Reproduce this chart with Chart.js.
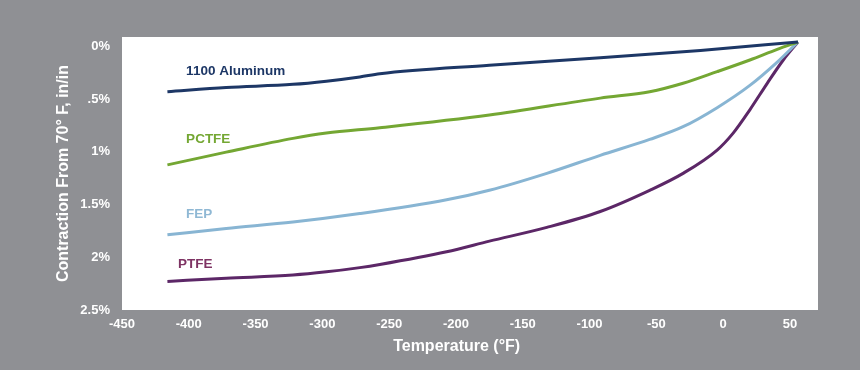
<!DOCTYPE html>
<html>
<head>
<meta charset="utf-8">
<script src="https://cdn.jsdelivr.net/npm/chart.js@4.4.1/dist/chart.umd.min.js"></script>
<style>
  html, body { margin: 0; padding: 0; background: #8f9094; }
  canvas { display: block; }
</style>
</head>
<body>
<canvas id="myChart" width="860" height="370"></canvas>
<script>
// values (temperature °F, contraction %)
const aluminumTemp = [-416, -372, -322, -297, -272, -257, -175, -92, -17, 56];
const aluminumPct  = [0.47, 0.43, 0.40, 0.37, 0.33, 0.30, 0.22, 0.15, 0.08, 0];

const pctfeTemp = [-416, -372, -322, -297, -257, -175, -92, -55, -30, -4.5, 20, 40.5, 56];
const pctfePct  = [1.16, 1.04, 0.91, 0.86, 0.81, 0.69, 0.53, 0.47, 0.39, 0.28, 0.17, 0.07, 0];

const fepTemp = [-416, -372, -322, -272, -207, -175, -132, -92, -55, -30, -4.5, 20, 40.5, 56];
const fepPct  = [1.82, 1.76, 1.70, 1.62, 1.49, 1.40, 1.24, 1.07, 0.92, 0.80, 0.62, 0.41, 0.19, 0];

const ptfeTemp = [-416, -372, -322, -297, -272, -257, -207, -175, -132, -92, -55, -30, -4.5, 7.5, 20, 33, 45, 56];
const ptfePct  = [2.26, 2.23, 2.20, 2.17, 2.13, 2.10, 1.98, 1.88, 1.75, 1.60, 1.40, 1.24, 1.02, 0.86, 0.64, 0.39, 0.17, 0];

const seriesNames = ['1100 Aluminum', 'PCTFE', 'FEP', 'PTFE'];
const seriesColors = ['#1d3766', '#74a733', '#88b5d3', '#5c2767'];
const labelColors = ['#1d3766', '#74a733', '#8fb8d4', '#7e3363'];

const xTicks = [-450, -400, -350, -300, -250, -200, -150, -100, -50, 0, 50];
const yTicks = [0, 0.5, 1, 1.5, 2, 2.5];
const yTickLabels = ['0%', '.5%', '1%', '1.5%', '2%', '2.5%'];

const FONT = '"Liberation Sans", Arial, sans-serif';

function toPoints(xs, ys) {
    return xs.map((x, i) => ({ x: x, y: ys[i] }));
}

const temps = [aluminumTemp, pctfeTemp, fepTemp, ptfeTemp];
const pcts = [aluminumPct, pctfePct, fepPct, ptfePct];

const data = {
    datasets: seriesNames.map((name, i) => ({
        label: name,
        data: toPoints(temps[i], pcts[i]),
        borderColor: seriesColors[i],
        borderWidth: 3,
        pointRadius: 0,
        fill: false,
        cubicInterpolationMode: 'monotone'
    }))
};

// where each series name is written, in axis units
const labelAnchors = [
    { x: -402, y: 0.28 },
    { x: -402, y: 0.92 },
    { x: -402, y: 1.63 },
    { x: -408, y: 2.10 }
];

const backgroundPlugin = {
    id: 'background',
    beforeDraw(chart) {
        const { ctx, chartArea } = chart;
        ctx.save();
        ctx.fillStyle = '#8f9094';
        ctx.fillRect(0, 0, chart.width, chart.height);
        ctx.fillStyle = '#ffffff';
        ctx.fillRect(chartArea.left, chartArea.top, chartArea.right - chartArea.left, chartArea.bottom - chartArea.top);
        ctx.restore();
    }
};

const seriesLabels = {
    id: 'seriesLabels',
    afterDatasetsDraw(chart) {
        const { ctx, scales } = chart;
        ctx.save();
        ctx.font = 'bold 13.5px ' + FONT;
        ctx.textAlign = 'left';
        ctx.textBaseline = 'middle';
        seriesNames.forEach((name, i) => {
            ctx.fillStyle = labelColors[i];
            ctx.fillText(name, scales.x.getPixelForValue(labelAnchors[i].x), scales.y.getPixelForValue(labelAnchors[i].y));
        });
        ctx.restore();
    }
};

const config = {
    type: 'line',
    data: data,
    options: {
        responsive: false,
        animation: false,
        layout: {
            padding: { left: 50, right: 42, top: 37, bottom: 10 }
        },
        plugins: {
            legend: { display: false },
            tooltip: { enabled: false }
        },
        scales: {
            x: {
                type: 'linear',
                min: -450,
                max: 71,
                afterBuildTicks: (scale) => { scale.ticks = xTicks.map(v => ({ value: v })); },
                afterFit: (scale) => { scale.height = 50; },
                grid: { display: false, drawTicks: false },
                border: { display: false },
                ticks: {
                    color: '#ffffff',
                    padding: 7,
                    maxRotation: 0,
                    font: { family: FONT, size: 13, weight: 'bold' }
                },
                title: {
                    display: true,
                    text: 'Temperature (°F)      ',
                    color: '#ffffff',
                    font: { family: FONT, size: 16, weight: 'bold' }
                }
            },
            y: {
                type: 'linear',
                reverse: true,
                min: -0.047,
                max: 2.53,
                afterBuildTicks: (scale) => { scale.ticks = yTicks.map(v => ({ value: v })); },
                afterFit: (scale) => { scale.width = 72; },
                grid: { display: false, drawTicks: false },
                border: { display: false },
                ticks: {
                    color: '#ffffff',
                    padding: 12,
                    labelOffset: 4,
                    font: { family: FONT, size: 13, weight: 'bold' },
                    callback: (value) => yTickLabels[yTicks.indexOf(value)]
                },
                title: {
                    display: true,
                    text: 'Contraction From 70° F, in/in',
                    color: '#ffffff',
                    font: { family: FONT, size: 16, weight: 'bold' }
                }
            }
        }
    },
    plugins: [backgroundPlugin, seriesLabels]
};

const myChart = new Chart(document.getElementById('myChart'), config);
</script>
</body>
</html>
